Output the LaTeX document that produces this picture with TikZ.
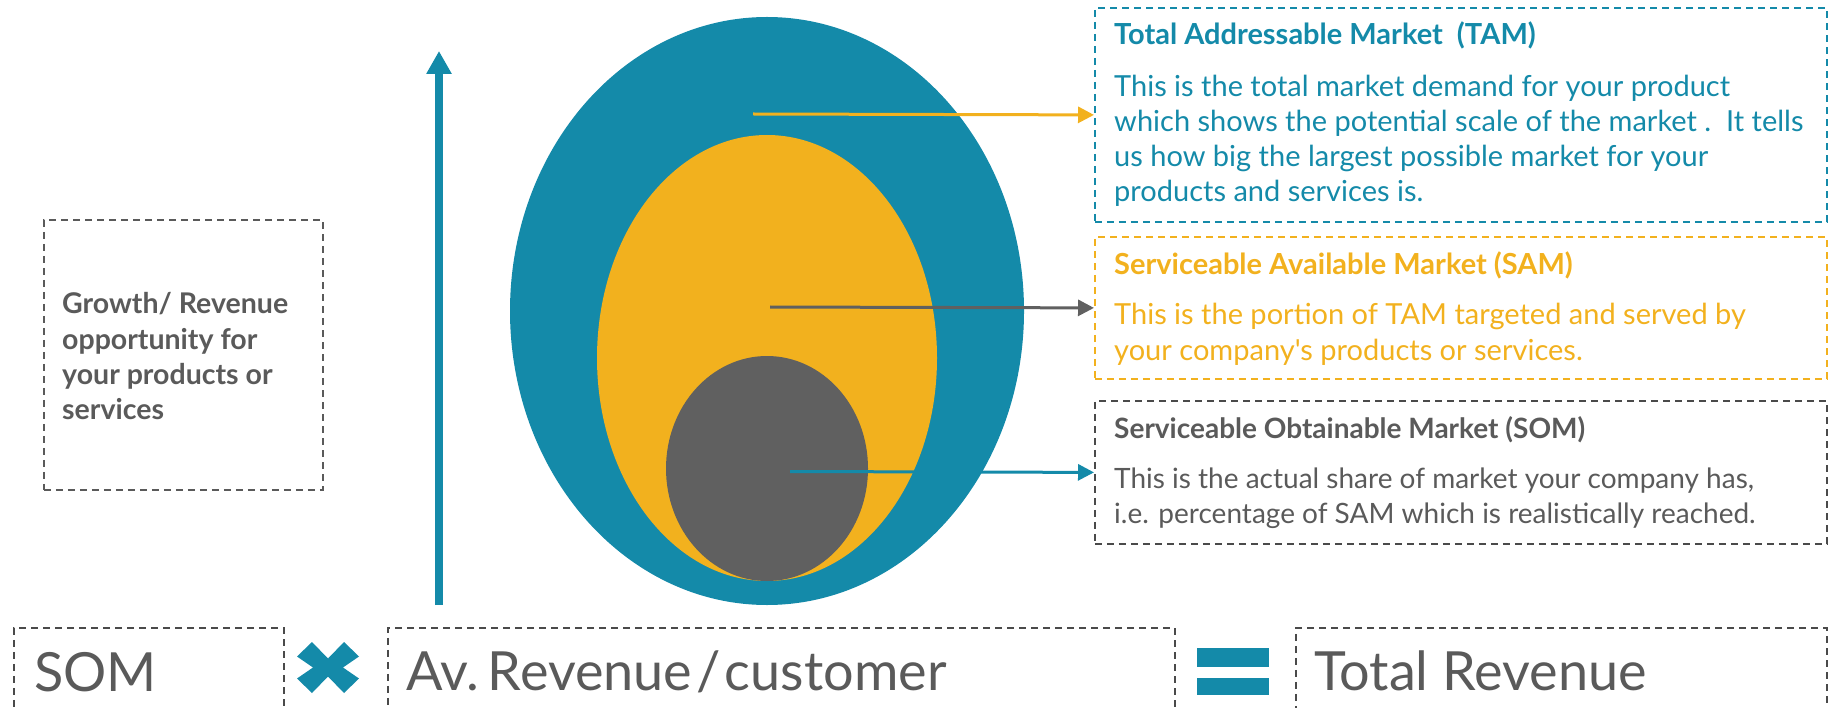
\documentclass[tikz,border=0pt]{standalone}
\usepackage{fontspec}
\setmainfont{Lato}[Ligatures=TeXOff]
\usetikzlibrary{arrows.meta,shapes.geometric}

\definecolor{mteal}{HTML}{148AA9}
\definecolor{myellow}{HTML}{F2B11E}
\definecolor{mgray}{HTML}{606060}
\definecolor{txtgray}{HTML}{5A5A5A}
\definecolor{edgegray}{HTML}{4A4A4A}

\begin{document}
\begin{tikzpicture}[x=1pt,y=-1pt,
  box/.style={draw, dash pattern=on 7pt off 5pt, line width=1.8pt, inner sep=0pt, anchor=north west},
  title/.style={anchor=base west, inner sep=0pt, font=\fontsize{29}{34}\selectfont\bfseries},
  body/.style={anchor=base west, inner sep=0pt, font=\fontsize{29}{34}\selectfont},
  stitle/.style={title, font=\fontsize{28}{34}\selectfont\bfseries},
  sbody/.style={body, font=\fontsize{28}{34}\selectfont},
  gtext/.style={anchor=base west, inner sep=0pt, font=\fontsize{28.5}{34}\selectfont\bfseries, text=txtgray},
  big/.style={anchor=base west, inner sep=0pt, font=\fontsize{54}{60}\selectfont, text=txtgray},
  tight/.style={execute at begin node={\spaceskip=4pt\relax}},
  blob/.style={ellipse, inner sep=0pt, draw=none},
  pointer/.style={line width=3pt, -{Triangle[length=16pt,width=16pt]}},
]
\useasboundingbox (0,0) rectangle (1835,708);
\clip (0,0) rectangle (1835,708);

% nested market ellipses
\node[blob, fill=mteal, minimum width=514pt, minimum height=588pt] (tam) at (767,311) {};
\node[blob, fill=myellow, minimum width=340pt, minimum height=446pt] (sam) at (767,358) {};
\node[blob, fill=mgray, minimum width=202pt, minimum height=225pt] (som) at (767,468.5) {};

% growth axis
\coordinate (axisfoot) at (439,605);
\coordinate (axistip) at (439,51);
\draw[mteal, line width=8pt, -{Triangle[length=23pt,width=24pt]}] (axisfoot) -- (axistip);

% growth box
\node[box, draw=txtgray, minimum width=279pt, minimum height=270pt] (growthbox) at (43,219) {};
\node[gtext] (g1) at (62,314) {Growth/ Revenue};
\node[gtext] (g2) at (62,349) {opportunity for};
\node[gtext] (g3) at (62,384) {your products or};
\node[gtext] (g4) at (62,419) {services};

% description boxes
\node[box, draw=mteal, minimum width=732pt, minimum height=214pt] (tambox) at (1094,7) {};
\node[box, draw=myellow, minimum width=732pt, minimum height=142pt] (sambox) at (1094,236) {};
\node[box, draw=edgegray, minimum width=732pt, minimum height=143pt] (sombox) at (1094,400) {};

\node[title, text=mteal] (tamt) at (1114,45) {Total Addressable Market~~(TAM)};
\node[body, text=mteal] (tam1) at (1114,97) {This is the total market demand for your product};
\node[body, text=mteal] (tam2) at (1114,132) {which shows the potential scale of the market\ .~~It tells};
\node[body, text=mteal] (tam3) at (1114,167) {us how big the largest possible market for your};
\node[body, text=mteal] (tam4) at (1114,202) {products and services is.};

\node[title, text=myellow] (samt) at (1114,275) {Serviceable Available Market (SAM)};
\node[body, text=myellow] (sam1) at (1114,325) {This is the portion of TAM targeted and served by};
\node[body, text=myellow] (sam2) at (1114,360) {your company's products or services.};

\node[stitle, text=txtgray] (somt) at (1114,438) {Serviceable Obtainable Market (SOM)};
\node[sbody, text=txtgray] (som1) at (1114,488) {This is the actual share of market your company has,};
\node[sbody, text=txtgray] (som2) at (1114,523) {i.e. percentage of SAM which is realistically reached.};

% pointers from the ellipses to their boxes
\coordinate (tamfrom) at (753,114);
\coordinate (samfrom) at (770,307);
\coordinate (somfrom) at (790,471.5);
\draw[pointer, myellow] (tamfrom) -- (tambox.west);
\draw[pointer, mgray] (samfrom) -- (sambox.west);
\draw[pointer, mteal] (somfrom) -- (sombox.west);

% revenue formula
\node[box, draw=edgegray, minimum width=270pt, minimum height=120pt] (fsom) at (13,627) {};
\node[box, draw=edgegray, minimum width=787pt, minimum height=120pt] (frev) at (387,627) {};
\node[box, draw=edgegray, minimum width=531pt, minimum height=120pt] (ftot) at (1295,627) {};
\node[big] (fsomt) at (34,691) {SOM};
\node[big, tight] (frevt) at (406,690) {Av. Revenue / customer};
\node[big] (ftott) at (1314,690) {Total Revenue};

% multiplication sign
\fill[mteal] (328,667.5) +(-16,-25.5) -- +(0,-9) -- +(16,-25.5) -- +(31,-11) -- +(15,0)
  -- +(31,11) -- +(16,25.5) -- +(0,9) -- +(-16,25.5) -- +(-31,11) -- +(-15,0) -- +(-31,-11) -- cycle;
% equals sign
\fill[mteal] (1197,648) rectangle (1269,667);
\fill[mteal] (1197,678) rectangle (1269,695);
\end{tikzpicture}
\end{document}
